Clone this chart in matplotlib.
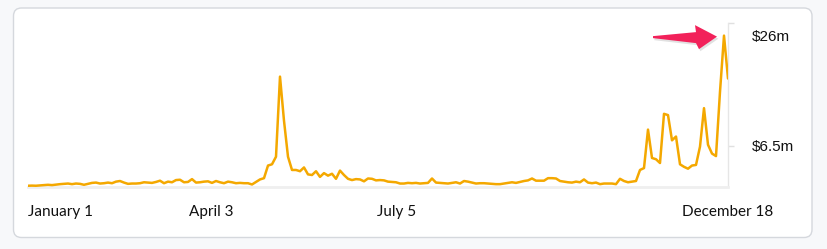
import numpy as np
import pandas as pd
import matplotlib
matplotlib.use("Agg")
import matplotlib.pyplot as plt
import matplotlib.dates as mdates
from matplotlib.patches import FancyBboxPatch, Polygon
import matplotlib.transforms as mtransforms
import matplotlib.patheffects as pe

# ---- data ----
start_date = "2021-01-01"
end_date = "2021-12-18"
volume_m = [
    0.2, 0.22, 0.2, 0.25, 0.3, 0.35, 0.3, 0.38, 0.45, 0.5, 0.55, 0.45, 0.55, 0.5, 0.35, 0.5,
    0.65, 0.7, 0.55, 0.6, 0.7, 0.6, 0.85, 0.95, 0.7, 0.5, 0.55, 0.55, 0.6, 0.75, 0.7, 0.65,
    0.8, 1.0, 0.6, 0.85,
    0.75, 1.1, 1.15, 0.75, 0.8, 1.25, 0.7, 0.75, 0.85, 0.9, 0.65, 0.95, 0.75, 0.6, 0.85, 0.75,
    0.6, 0.65, 0.6, 0.6, 0.4, 0.8, 1.2, 1.4, 3.4, 3.6, 4.8, 17.5, 10.5, 4.8, 2.7, 2.7, 2.5,
    3.1, 2.0, 1.9,
    2.5, 1.6, 2.2, 1.8, 2.1, 1.3, 2.6, 1.9, 1.3, 1.1, 1.25, 1.2, 0.9, 1.35, 1.3, 1.05, 1.1,
    1.05, 0.85, 0.8, 0.75, 0.55, 0.55, 0.65, 0.6, 0.65, 0.55, 0.6, 0.65, 1.35, 0.7, 0.65,
    0.6, 0.55,
    0.65, 0.75, 0.55, 0.95, 0.85, 0.7, 0.55, 0.6, 0.6, 0.55, 0.5, 0.45, 0.45, 0.55, 0.65,
    0.75, 0.65, 0.8, 0.95, 1.05, 1.35, 1.0, 1.0, 1.0, 1.4, 1.4, 1.35, 0.95, 0.85, 0.75, 0.7,
    0.85, 0.75, 1.2, 0.7,
    0.6, 0.7, 0.45, 0.55, 0.55, 0.55, 0.45, 1.3, 0.95, 0.75, 0.85, 0.95, 2.7, 3.0, 9.1, 4.6,
    4.4, 3.8, 11.6, 11.4, 7.4, 8.0, 3.6, 3.2, 2.9, 3.4, 3.5, 6.4, 12.5, 6.7, 5.3, 4.9, 15.1,
    24.0, 17.2,
]
tick_dates = ["2021-01-01", "2021-04-03", "2021-07-05", "2021-12-18"]
tick_labels = ["January 1", "April 3", "July 5", "December 18"]
y_ticks = [6.5, 26]
y_tick_labels = ["$6.5m", "$26m"]

dates = pd.date_range(start_date, end_date, periods=len(volume_m))
values = np.array(volume_m)

# ---- figure ----
W, H = 827, 249
fig = plt.figure(figsize=(W / 100, H / 100), dpi=100, facecolor="#f7f8fa")

card = FancyBboxPatch((13.5, H - 237.5), 798.5, 229.5,
                      boxstyle="round,pad=0,rounding_size=8",
                      transform=mtransforms.IdentityTransform(),
                      facecolor="white", edgecolor="#d5d8dd", lw=1.0, zorder=-5)
fig.patches.append(card)

ax = fig.add_axes([28 / W, 1 - 187 / H, 700 / W, 164 / H])
ax.patch.set_alpha(0)

ax.plot(dates, values, color="#f4a800", lw=1.8, solid_joinstyle="round",
        solid_capstyle="round", zorder=3)
ax.set_xlim(dates[0], dates[-1])
ax.set_ylim(0, 26)

for s in ("left", "top"):
    ax.spines[s].set_visible(False)
ax.spines["right"].set_color("#e6e6e6")
ax.spines["right"].set_linewidth(1.0)
ax.spines["bottom"].set_color("#efefef")
ax.spines["bottom"].set_linewidth(2.0)

ax.yaxis.tick_right()
ax.set_yticks(y_ticks)
ax.set_yticklabels(y_tick_labels, fontsize=11, fontfamily="Liberation Sans", color="#111111")
ax.tick_params(axis="y", length=4, width=1, color="#e0e0e0", pad=13)
top_lbl = ax.get_yticklabels()[1]
top_lbl.set_transform(top_lbl.get_transform() +
                      mtransforms.ScaledTranslation(0, -0.12, fig.dpi_scale_trans))

ax.set_xticks(pd.to_datetime(tick_dates))
ax.set_xticklabels(tick_labels, fontsize=11, fontfamily="Lato", color="#111111")
ax.tick_params(axis="x", length=0, pad=13)
ax.get_xticklabels()[0].set_ha("left")

# ---- arrow pointing at the peak (shape in pixels relative to the peak point) ----
peak_idx = int(np.argmax(values))
peak_trans = fig.dpi_scale_trans + mtransforms.ScaledTranslation(
    mdates.date2num(dates[peak_idx]), values[peak_idx], ax.transData)
arrow_shape_px = np.array([(-71, -0.5), (-28, 3.5), (-29, 10.5), (-7, -1),
                           (-25, -13.5), (-28, -7.5), (-71, -2.5)])
arrow = Polygon(arrow_shape_px / 100.0, closed=True, transform=peak_trans,
                facecolor="#f2215a", edgecolor="none", zorder=5, clip_on=False)
arrow.set_path_effects([pe.SimplePatchShadow(offset=(1, -1.5), shadow_rgbFace="#888888",
                                             alpha=0.25), pe.Normal()])
ax.add_patch(arrow)

fig.savefig("out.png", dpi=100, facecolor=fig.get_facecolor())
